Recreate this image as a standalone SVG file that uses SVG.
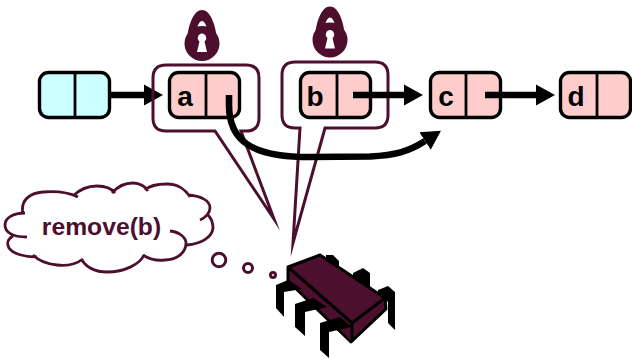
<svg xmlns="http://www.w3.org/2000/svg" width="632" height="358" viewBox="0 0 632 358">
<style>
.cell{stroke:#000;stroke-width:3.400}
.pink{fill:#ffcccc}.cyan{fill:#ccffff}
.div{stroke:#000;stroke-width:2.800;fill:none}
.lab{font:bold 28px "Liberation Sans",Arial,sans-serif;fill:#000;text-anchor:middle}
.ptr{stroke:#000;stroke-width:6.600;fill:none}
.call{fill:none;stroke:#4d0f2e;stroke-width:3;stroke-linejoin:miter;stroke-miterlimit:20}
.plum{fill:#4d0f2e}
.ring{fill:#fff;stroke:#4d0f2e;stroke-width:3}
.cloud{fill:none;stroke:#4d0f2e;stroke-width:2.800}
.body{fill:#4d0f2e;stroke:#000;stroke-width:3;stroke-linejoin:round}
.cloudtext{font:bold 24.700px "Liberation Sans",Arial,sans-serif;fill:#4d0f2e;text-anchor:middle}
</style>
<defs>
<marker id="ah" markerUnits="userSpaceOnUse" markerWidth="22" markerHeight="22" refX="0" refY="11" orient="auto"><path d="M0 0.500L19 11L0 21.500Z" fill="#000"/></marker>
<g id="lock"><path d="M0-33.500C-8-33.500-13-20-14.500-8L14.500-8C13-20 8-33.500 0-33.500ZM0-22.500C-2-22.500-4-19-4.500-16.500L4.500-16.500C4-19 2-22.500 0-22.500Z" fill="#4d0f2e" fill-rule="evenodd"/><circle r="17.500" class="plum"/><path d="M0-10A4.500 4.500 0 0 0-2.500-2L-5 8.500L5 8.500L2.500-2A4.500 4.500 0 0 0 0-10Z" fill="#fff"/></g>
</defs>
<g id="connector-head"><path class="ptr" marker-end="url(#ah)" d="M92 95H144"/></g>
<g id="callout-a"><path class="call" d="M166 65H246Q259 65 259 78V118Q259 131 246 131H241L274 219L215 131H166Q153 131 153 118V78Q153 65 166 65Z"/></g>
<g id="callout-b"><path class="call" d="M295 62H375Q388 62 388 75V115Q388 128 375 128H325L293 243L300 128H295Q282 128 282 115V75Q282 62 295 62Z"/></g>
<g id="lock-a"><use href="#lock" x="202" y="43.500"/></g>
<g id="lock-b"><use href="#lock" x="330" y="40"/></g>
<g id="node-head"><rect class="cell cyan" x="39.500" y="72.500" width="70" height="45" rx="9"/><path class="div" d="M75 72V118"/></g>
<g id="node-a"><rect class="cell pink" x="169.500" y="72.500" width="70" height="45" rx="9"/><path class="div" d="M206 72V118"/><text class="lab" x="185" y="105.500">a</text></g>
<g id="node-b"><rect class="cell pink" x="300.500" y="72.500" width="70" height="45" rx="9"/><path class="div" d="M337 72V118"/><text class="lab" x="315" y="105.500">b</text></g>
<g id="node-c"><rect class="cell pink" x="430.500" y="72.500" width="70" height="45" rx="9"/><path class="div" d="M466 72V118"/><text class="lab" x="446" y="105.500">c</text></g>
<g id="node-d"><rect class="cell pink" x="560.500" y="72.500" width="70" height="45" rx="9"/><path class="div" d="M597 72V118"/><text class="lab" x="576" y="105.500">d</text></g>
<g id="connectors">
<path class="ptr" marker-end="url(#ah)" d="M353 95H404"/>
<path class="ptr" marker-end="url(#ah)" d="M485 95H536"/>
<path class="ptr" marker-end="url(#ah)" d="M229 95V105C229 140 250 157 310 157L370 156.500C395 155 408 152 425 141"/>
</g>
<g id="thought">
<path class="cloud" d="M27 237C12 237 5 232 5 225C5 218 13 213 25 213M23 214C20 200 30 193 43 192C55 191 68 192 78 197M73 196C80 189 88 186 97 186C105 186 112 189 115 193M112 193C118 186 125 183 133 183C140 183 146 187 148 191M145 190C150 185 158 184 167 184C178 184 186 190 190 197M188 195C200 196 210 200 210 208C210 213 205 218 200 220M208 215C212 219 213 224 213 228C212 238 200 244 187 245M170 231C180 232 186 238 186 243C186 254 175 260 165 260C156 261 149 259 143 255M144 255C140 264 125 272 107 272C95 272 86 267 82 260M83 259C75 265 65 266 57 265C47 264 38 260 33 255M37 257C25 257 13 254 9 248C6 242 8 239 13 236"/>
<text class="cloudtext" x="101.500" y="235">remove(b)</text>
<circle class="ring" cx="219" cy="260" r="6.800"/>
<circle class="ring" cx="248" cy="268" r="4.500"/>
<circle class="ring" cx="273" cy="275" r="2.500"/>
</g>
<g id="bug">
<path fill="#000" d="M326 255L333 255L339 261L339 271L326 262ZM353 273L363 268L370 273L370 288L353 276ZM378 290L388 286L395 292V330L388 323V302L378 294Z"/>
<path class="body" d="M288 267L288 281L351 342L386 309L385 298L320 255Z"/>
<path class="body" d="M288 267L352 323V342M352 323L385 298"/>
<path fill="#000" d="M276 285L288 280L302 289L284 292V317L276 308ZM295 304L313 298L327 307L305 312V336L295 327ZM320 323L340 317L352 327L329 332V358L320 350Z"/>
</g>
</svg>
